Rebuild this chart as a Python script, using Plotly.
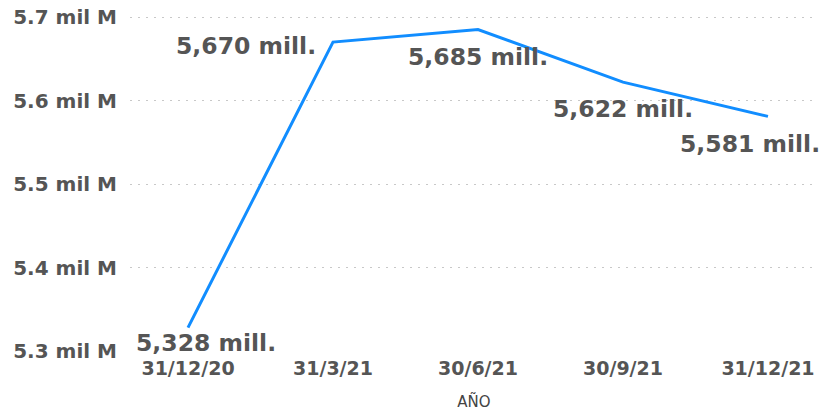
import plotly.graph_objects as go

dates = ["31/12/20", "31/3/21", "30/6/21", "30/9/21", "31/12/21"]
values = [5.328, 5.670, 5.685, 5.622, 5.581]
value_labels = ["5,328 mill.", "5,670 mill.", "5,685 mill.", "5,622 mill.", "5,581 mill."]
y_tick_vals = [5.3, 5.4, 5.5, 5.6, 5.7]
y_tick_text = ["5.3 mil M", "5.4 mil M", "5.5 mil M", "5.6 mil M", "5.7 mil M"]
x_title = "AÑO"

xs = list(range(len(dates)))
TEXT = "#555555"
FONT = "DejaVu Sans"

fig = go.Figure()
fig.add_trace(go.Scatter(
    x=xs, y=values, mode="lines",
    line=dict(color="#118DFF", width=3),
    hoverinfo="skip", showlegend=False,
))

# label offsets (pixels) per point
shifts = [(18, -15, "center"), (-15, -4, "right"), (0, -27, "center"), (0, -27, "center"), (-18, -28, "center")]
for x, v, t, (dx, dy, xa) in zip(xs, values, value_labels, shifts):
    fig.add_annotation(
        x=x, y=v, xref="x", yref="y", text=t, showarrow=False,
        xanchor=xa, yanchor="middle", xshift=dx, yshift=dy,
        font=dict(family=FONT, size=23.5, color=TEXT, weight="bold"),
    )

fig.update_layout(
    width=820, height=411,
    margin=dict(l=130, r=2, t=10, b=60),
    paper_bgcolor="white", plot_bgcolor="white",
    xaxis=dict(
        range=[-0.4, 4.345], tickvals=xs, ticktext=dates,
        showgrid=False, zeroline=False, showline=False, ticks="",
        tickfont=dict(family=FONT, size=19, color=TEXT, weight="bold"),
        ticklabelstandoff=4,
        title=dict(text=x_title, font=dict(family=FONT, size=15, color="#444444"), standoff=18),
    ),
    yaxis=dict(
        range=[5.3, 5.7084], tickvals=y_tick_vals, ticktext=y_tick_text,
        showgrid=True, gridcolor="#c8c8c8", griddash="2px,6px", gridwidth=1,
        zeroline=False, showline=False, ticks="",
        tickfont=dict(family=FONT, size=20, color=TEXT, weight="bold"),
        ticklabelstandoff=12,
    ),
)

fig.write_html(
    "out.html",
    config={"displayModeBar": False},
    post_script="document.body.style.margin='0';document.body.style.overflow='hidden';",
)
